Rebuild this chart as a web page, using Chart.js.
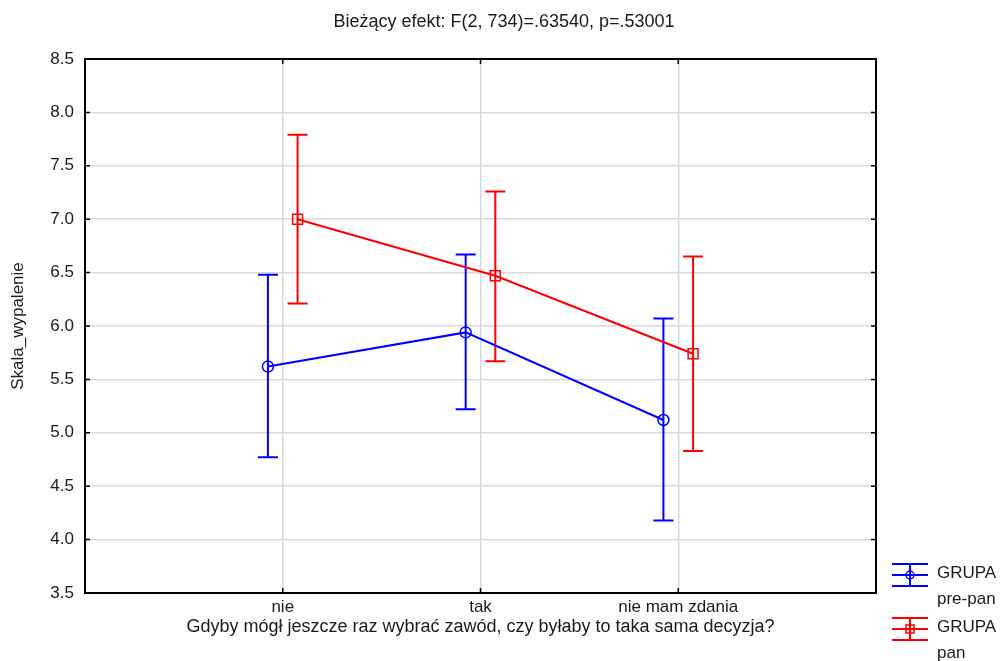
<!DOCTYPE html>
<html>
<head>
<meta charset="utf-8">
<script src="https://cdn.jsdelivr.net/npm/chart.js@4.4.1/dist/chart.umd.min.js"></script>
<style>
  html, body { margin: 0; padding: 0; background: #fff; }
  #wrap { width: 1002px; height: 661px; }
</style>
</head>
<body>
<div id="wrap"><canvas id="plot" width="1002" height="661"></canvas></div>
<script>
// categories on x (placed at 1, 2, 3)
const categories = ["nie", "tak", "nie mam zdania"];

// GRUPA pre-pan
const preMean = [5.62, 5.94, 5.12];
const preLow  = [4.77, 5.22, 4.18];
const preHigh = [6.48, 6.67, 6.07];

// GRUPA pan
const panMean = [7.00, 6.47, 5.74];
const panLow  = [6.21, 5.67, 4.83];
const panHigh = [7.79, 7.26, 6.65];

const yTicks = [3.5, 4.0, 4.5, 5.0, 5.5, 6.0, 6.5, 7.0, 7.5, 8.0, 8.5];
const offset = 0.075;

const FONT = "'Liberation Sans', Arial, sans-serif";
const BLUE = "#0000ff";
const RED = "#ff0000";

function pts(vals, shift) {
  return vals.map((v, i) => ({ x: i + 1 + shift, y: v }));
}

const series = [
  { label: "pre-pan", color: BLUE, mean: preMean, low: preLow, high: preHigh, shift: -offset, style: "circle", r: 5.5 },
  { label: "pan", color: RED, mean: panMean, low: panLow, high: panHigh, shift: offset, style: "rect", r: 7 }
];

// error bars, full box border, inner tick marks, title, legend
const extras = {
  id: "extras",
  beforeDatasetsDraw(chart) {
    const { ctx, scales: { x, y } } = chart;
    ctx.save();
    series.forEach(s => {
      ctx.strokeStyle = s.color;
      ctx.lineWidth = 2;
      s.mean.forEach((m, i) => {
        const px = x.getPixelForValue(i + 1 + s.shift);
        const top = y.getPixelForValue(s.high[i]);
        const bot = y.getPixelForValue(s.low[i]);
        ctx.beginPath();
        ctx.moveTo(px, top); ctx.lineTo(px, bot);
        ctx.moveTo(px - 10, top); ctx.lineTo(px + 10, top);
        ctx.moveTo(px - 10, bot); ctx.lineTo(px + 10, bot);
        ctx.stroke();
      });
    });
    ctx.restore();
  },
  afterDraw(chart) {
    const { ctx, chartArea: a, scales: { x, y } } = chart;
    ctx.save();
    // box
    ctx.strokeStyle = "#000";
    ctx.lineWidth = 2;
    ctx.strokeRect(a.left, a.top, a.right - a.left, a.bottom - a.top);
    // inward ticks
    ctx.lineWidth = 1.5;
    ctx.beginPath();
    yTicks.forEach(v => {
      const py = y.getPixelForValue(v);
      ctx.moveTo(a.left, py); ctx.lineTo(a.left + 5, py);
      ctx.moveTo(a.right, py); ctx.lineTo(a.right - 5, py);
    });
    categories.forEach((c, i) => {
      const px = x.getPixelForValue(i + 1);
      ctx.moveTo(px, a.top); ctx.lineTo(px, a.top + 5);
      ctx.moveTo(px, a.bottom); ctx.lineTo(px, a.bottom - 5);
    });
    ctx.stroke();

    // title
    ctx.fillStyle = "#1a1a1a";
    ctx.font = "18px " + FONT;
    ctx.textAlign = "center";
    ctx.textBaseline = "middle";
    ctx.fillText("Bieżący efekt: F(2, 734)=.63540, p=.53001", 504, 22);

    // legend
    ctx.font = "17px " + FONT;
    ctx.textAlign = "left";
    const entries = [
      { s: series[0], top: 564, lines: ["GRUPA", "pre-pan"], ty: [573, 599] },
      { s: series[1], top: 618, lines: ["GRUPA", "pan"], ty: [627, 653] }
    ];
    entries.forEach(e => {
      const x0 = 892, x1 = 928, xm = 910, mid = e.top + 11, bot = e.top + 22;
      ctx.strokeStyle = e.s.color;
      ctx.lineWidth = 2;
      ctx.beginPath();
      ctx.moveTo(x0, e.top); ctx.lineTo(x1, e.top);
      ctx.moveTo(x0, mid); ctx.lineTo(x1, mid);
      ctx.moveTo(x0, bot); ctx.lineTo(x1, bot);
      ctx.moveTo(xm, e.top); ctx.lineTo(xm, bot);
      ctx.stroke();
      ctx.lineWidth = 1.5;
      ctx.beginPath();
      if (e.s.style === "circle") ctx.arc(xm, mid, 4, 0, Math.PI * 2);
      else ctx.rect(xm - 4, mid - 4, 8, 8);
      ctx.stroke();
      ctx.fillStyle = "#1a1a1a";
      ctx.fillText(e.lines[0], 937, e.ty[0]);
      ctx.fillText(e.lines[1], 937, e.ty[1]);
    });
    ctx.restore();
  }
};

new Chart(document.getElementById("plot"), {
  type: "line",
  data: {
    datasets: series.map(s => ({
      label: s.label,
      data: pts(s.mean, s.shift),
      borderColor: s.color,
      borderWidth: 2,
      pointStyle: s.style,
      pointRadius: s.r,
      pointBorderWidth: 1.5,
      pointBorderColor: s.color,
      pointBackgroundColor: "rgba(0,0,0,0)",
      tension: 0,
      fill: false
    }))
  },
  options: {
    responsive: false,
    animation: false,
    layout: { padding: { left: 0, top: 59, right: 126, bottom: 0 } },
    plugins: {
      legend: { display: false },
      title: { display: false },
      tooltip: { enabled: false }
    },
    scales: {
      x: {
        type: "linear",
        min: 0,
        max: 4,
        afterBuildTicks: sc => { sc.ticks = [0, 1, 2, 3, 4].map(v => ({ value: v })); },
        afterFit: sc => { sc.height = 68; },
        border: { color: "#000", width: 2 },
        grid: {
          drawTicks: false,
          lineWidth: 1.5,
          color: c => (c.tick && (c.tick.value === 0 || c.tick.value === 4)) ? "rgba(0,0,0,0)" : "#d9d9d9"
        },
        ticks: {
          padding: 4,
          color: "#1a1a1a",
          font: { family: FONT, size: 17 },
          maxRotation: 0,
          callback: v => categories[v - 1] || ""
        },
        title: {
          display: true,
          text: "Gdyby mógł jeszcze raz wybrać zawód, czy byłaby to taka sama decyzja?",
          color: "#1a1a1a",
          font: { family: FONT, size: 18 },
          padding: { top: 0, bottom: 23 }
        }
      },
      y: {
        min: 3.5,
        max: 8.5,
        afterBuildTicks: sc => { sc.ticks = yTicks.map(v => ({ value: v })); },
        afterFit: sc => { sc.width = 85; },
        border: { color: "#000", width: 2 },
        grid: {
          drawTicks: false,
          lineWidth: 1.5,
          color: c => (c.tick && (c.tick.value === 3.5 || c.tick.value === 8.5)) ? "rgba(0,0,0,0)" : "#d9d9d9"
        },
        ticks: {
          padding: 11,
          color: "#1a1a1a",
          font: { family: FONT, size: 17 },
          callback: v => v.toFixed(1)
        },
        title: {
          display: true,
          text: "Skala_wypalenie",
          color: "#1a1a1a",
          font: { family: FONT, size: 17 },
          padding: { top: 8, bottom: 0 }
        }
      }
    }
  },
  plugins: [extras]
});
</script>
</body>
</html>
